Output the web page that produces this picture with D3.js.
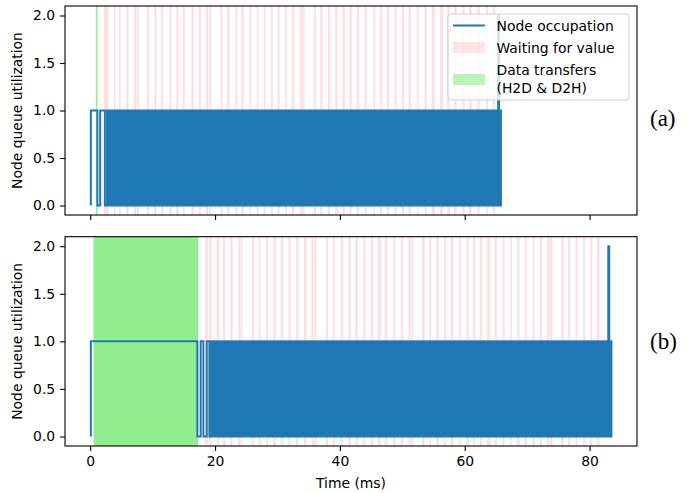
<!DOCTYPE html>
<html>
<head>
<meta charset="utf-8">
<script src="https://cdn.jsdelivr.net/npm/d3@7"></script>
<style>
  body { margin: 0; background: #fff; }
  text { font-family: "DejaVu Sans", sans-serif; fill: #000; }
  .tick text { font-size: 13.9px; }
  .panel-tag { font-family: "Liberation Serif", serif; font-size: 23px; }
</style>
</head>
<body>
<div id="chart"></div>
<script>
// occupation step points (ms, queue value), sparse parts only
var occTimeA = [0.1, 0.1, 1.15, 1.6, 2.35, 2.7];
var occValA  = [0,   1,   0,    1,   0,    0];
var occTimeB = [0.1, 0.1, 17.17, 17.7, 18.13, 18.67, 19.09, 19.36];
var occValB  = [0,   1,   0,     1,    0,     1,     0,     0];

// dense 0/1 switching, too fast to resolve -> drawn as a filled band
var denseA = [2.7, 65.8];
var denseB = [19.36, 83.5];

// final spike to 2
var spikeA = [65.35, 65.5];
var spikeB = [83.0, 83.15];

// data transfers (H2D & D2H)
var transferA = [[0.9, 1.15]];
var transferB = [[0.53, 17.3]];

// waiting for value spans
var waitA = [[2.2,2.95],[3.8,4.05],[4.6,4.9],[5.75,6.15],[7.0,7.35],[7.45,7.8],[9.1,9.45],
  [10.25,10.6],[11.35,11.7],[12.7,13.05],[13.75,14.15],[14.8,15.15],[16.2,16.6],[17.4,17.75],
  [18.55,18.9],[19.05,19.4],[20.85,21.2],[21.9,22.35],[23.25,23.6],[24.2,24.6],[25.5,25.8],
  [26.65,26.95],[27.8,28.1],[28.95,29.25],[30.0,30.35],[31.2,31.5],[32.3,32.7],[33.6,33.95],
  [34.0,34.35],[35.8,36.15],[36.85,37.2],[38.1,38.45],[39.25,39.65],[40.4,40.8],[41.55,41.9],
  [42.7,43.1],[43.95,44.3],[45.35,45.65],[46.45,46.8],[47.5,47.9],[48.75,49.1],[49.9,50.3],
  [51.0,51.4],[52.3,52.6],[53.55,53.9],[54.7,55.25],[56.05,56.55],[57.2,57.6],[58.3,58.7],
  [59.6,60.0],[60.7,61.1],[62.0,62.4],[63.4,63.7],[64.5,64.9]];
var waitB = [[18.4,18.85],[19.05,19.45],[20.25,20.7],[21.25,21.65],[22.4,22.8],[23.7,24.0],
  [24.05,24.35],[25.85,26.25],[26.95,27.3],[28.15,28.5],[29.35,29.75],[30.5,30.9],[31.75,32.1],
  [32.95,33.35],[34.25,34.65],[35.45,35.8],[35.9,36.25],[37.75,38.1],[38.85,39.2],[40.15,40.5],
  [41.35,41.75],[42.5,42.9],[43.75,44.1],[44.95,45.3],[46.05,46.55],[47.2,47.6],[48.55,48.9],
  [49.75,50.1],[50.95,51.3],[51.4,51.75],[53.15,53.6],[54.3,54.65],[55.45,55.85],[56.7,57.05],
  [57.75,58.2],[59.05,59.35],[60.25,60.65],[61.35,61.7],[62.4,62.8],[63.55,64.1],[64.8,65.15],
  [66.05,66.4],[67.3,67.6],[68.35,68.8],[69.6,69.95],[70.85,71.2],[72.0,72.4],[73.15,73.55],
  [73.65,74.05],[75.45,75.85],[76.55,76.9],[77.75,78.1],[78.95,79.35],[80.1,80.45],[81.15,81.6]];

var xTicks = [0, 20, 40, 60, 80];
var yTicks = [0, 0.5, 1, 1.5, 2];
var tags = ["(a)", "(b)"];
var legendLabels = ["Node occupation", "Waiting for value", "Data transfers", "(H2D & D2H)"];

var W = 699, H = 493;
var left = 65, right = 637;
var blue = "#1f77b4", green = "#90ee90";

var svg = d3.select("#chart").append("svg")
    .attr("width", W)
    .attr("height", H);

var x = d3.scaleLinear().domain([-4.04, 87.6]).range([left, right]);

var panels = [
  {top: 6, bottom: 215, t: occTimeA, v: occValA, dense: denseA, spike: spikeA, tr: transferA, wait: waitA, labels: false},
  {top: 236.7, bottom: 446, t: occTimeB, v: occValB, dense: denseB, spike: spikeB, tr: transferB, wait: waitB, labels: true}
];

panels.forEach(function(p, i) {
  var y = d3.scaleLinear().domain([-0.1, 2.1]).range([p.bottom, p.top]);
  var g = svg.append("g");

  var clipId = "clip" + i;
  g.append("clipPath").attr("id", clipId)
    .append("rect")
      .attr("x", left).attr("y", p.top)
      .attr("width", right - left).attr("height", p.bottom - p.top);

  var plot = g.append("g").attr("clip-path", "url(#" + clipId + ")");

  // waiting spans
  plot.selectAll(".wait")
    .data(p.wait)
    .enter().append("rect")
      .attr("class", "wait")
      .attr("x", function(d) { return x(d[0]); })
      .attr("width", function(d) { return x(d[1]) - x(d[0]); })
      .attr("y", p.top)
      .attr("height", p.bottom - p.top)
      .attr("fill", "#ff0000")
      .attr("fill-opacity", 0.12);

  // transfers
  plot.selectAll(".tr")
    .data(p.tr)
    .enter().append("rect")
      .attr("class", "tr")
      .attr("x", function(d) { return x(d[0]); })
      .attr("width", function(d) { return x(d[1]) - x(d[0]); })
      .attr("y", p.top)
      .attr("height", p.bottom - p.top)
      .attr("fill", green);

  // sparse step line
  var pts = p.t.map(function(t, k) { return [t, p.v[k]]; });
  var line = d3.line()
    .x(function(d) { return x(d[0]); })
    .y(function(d) { return y(d[1]); })
    .curve(d3.curveStepAfter);
  plot.append("path")
    .attr("d", line(pts))
    .attr("fill", "none")
    .attr("stroke", blue)
    .attr("stroke-width", 2);

  // dense band
  plot.append("rect")
    .attr("x", x(p.dense[0]))
    .attr("width", x(p.dense[1]) - x(p.dense[0]))
    .attr("y", y(1))
    .attr("height", y(0) - y(1))
    .attr("fill", blue)
    .attr("stroke", blue)
    .attr("stroke-width", 2);

  // spike
  var sp = [[p.spike[0], 1], [p.spike[0], 2], [p.spike[1], 1]];
  plot.append("path")
    .attr("d", line(sp))
    .attr("fill", "none")
    .attr("stroke", blue)
    .attr("stroke-width", 2);

  // axes
  var xAxis = d3.axisBottom(x).tickValues(xTicks).tickSize(4.9).tickPadding(4.9)
    .tickFormat(p.labels ? d3.format("d") : function() { return ""; });
  g.append("g")
    .attr("transform", "translate(0," + p.bottom + ")")
    .call(xAxis)
    .call(function(s) { s.select(".domain").remove(); });

  var yAxis = d3.axisLeft(y).tickValues(yTicks).tickSize(4.9).tickPadding(4.9)
    .tickFormat(d3.format(".1f"));
  g.append("g")
    .attr("transform", "translate(" + left + ",0)")
    .call(yAxis)
    .call(function(s) { s.select(".domain").remove(); });

  g.selectAll(".tick line").attr("stroke", "#000").attr("stroke-width", 1.1);
  g.selectAll(".tick text").attr("fill", "#000");

  g.append("rect")
    .attr("x", left).attr("y", p.top)
    .attr("width", right - left).attr("height", p.bottom - p.top)
    .attr("fill", "none")
    .attr("stroke", "#000")
    .attr("stroke-width", 1.1);

  g.append("text")
    .attr("transform", "translate(22," + ((p.top + p.bottom) / 2) + ") rotate(-90)")
    .attr("text-anchor", "middle")
    .style("font-size", "13.9px")
    .text("Node queue utilization");

  g.append("text")
    .attr("class", "panel-tag")
    .attr("x", 650)
    .attr("y", (p.top + p.bottom) / 2 + (i === 0 ? 15 : 8))
    .text(tags[i]);
});

svg.append("text")
  .attr("x", (left + right) / 2)
  .attr("y", 488)
  .attr("text-anchor", "middle")
  .style("font-size", "13.9px")
  .text("Time (ms)");

// legend
var lg = svg.append("g");
lg.append("rect")
  .attr("x", 448).attr("y", 14)
  .attr("width", 181).attr("height", 86)
  .attr("rx", 3)
  .attr("fill", "#fff").attr("fill-opacity", 0.8)
  .attr("stroke", "#d0d0d0").attr("stroke-width", 1);

lg.append("line")
  .attr("x1", 453).attr("x2", 485)
  .attr("y1", 25.5).attr("y2", 25.5)
  .attr("stroke", blue).attr("stroke-width", 2);
lg.append("rect")
  .attr("x", 453).attr("y", 42).attr("width", 32).attr("height", 11)
  .attr("fill", "#ff0000").attr("fill-opacity", 0.1);
lg.append("rect")
  .attr("x", 453).attr("y", 74).attr("width", 32).attr("height", 11)
  .attr("fill", green).attr("fill-opacity", 0.6);

var legendY = [25.5, 47.5, 69.5, 87.5];
lg.selectAll(".lt")
  .data(legendLabels)
  .enter().append("text")
    .attr("class", "lt")
    .attr("x", 496.5)
    .attr("y", function(d, k) { return legendY[k]; })
    .attr("dy", "0.36em")
    .style("font-size", "13.9px")
    .text(function(d) { return d; });
</script>
</body>
</html>
